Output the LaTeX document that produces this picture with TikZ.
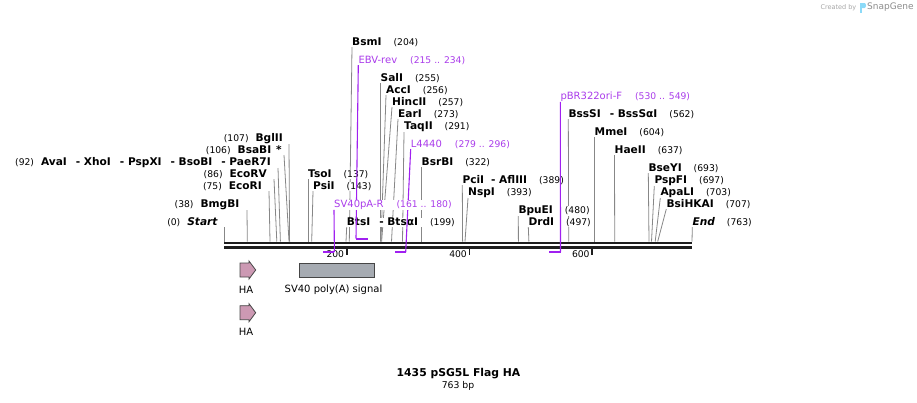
\documentclass[tikz,border=0pt]{standalone}
\usepackage{fontspec}
\setmainfont{DejaVu Sans}
\definecolor{primerc}{RGB}{160,32,240}
\definecolor{primertxt}{RGB}{170,60,235}
\definecolor{cutc}{RGB}{135,135,135}
\definecolor{hafill}{RGB}{204,153,179}
\definecolor{polyafill}{RGB}{166,171,178}
\definecolor{edgec}{RGB}{70,70,70}
\definecolor{bbone}{RGB}{30,30,30}
\pgfdeclarelayer{bg}
\pgfsetlayers{bg,main}
\newcommand{\sitename}[1]{{\fontsize{10.6}{12}\selectfont\bfseries #1}}
\newcommand{\sitenum}[1]{{\fontsize{9.2}{12}\selectfont(#1)}}
\begin{document}
\begin{tikzpicture}[x=1pt, y=-1pt,
    site/.style={inner sep=0pt, fill=white, font=\fontsize{9.2}{12}\selectfont},
    cut/.style={cutc, line width=0.8pt},
    primer/.style={primerc, line width=1.1pt},
    pbar/.style={primerc, line width=2pt},
    backbone/.style={bbone, line width=2.5pt},
    tick/.style={bbone, line width=1.6pt},
    feat/.style={draw=edgec, line width=0.8pt},
    flabel/.style={inner sep=0pt, font=\fontsize{10}{12}\selectfont}]
  \useasboundingbox (0,0) rectangle (917,402);
  % backbone and ruler
  \draw[backbone] (224,243) -- (692,243);
  \draw[backbone] (224,247.5) -- (692,247.5);
  \foreach \bp in {200,400,600}{
    \coordinate (t\bp) at ({224+\bp*0.6138},248.5);
    \draw[tick] (t\bp) -- ++(0,6.5);
    \node[site, fill=none, anchor=east] (lbl\bp) at ([xshift=-2.5pt,yshift=-6pt]t\bp) {\bp};
  }
  % sites labelled to the left of their line
  \foreach \id/\nm/\num/\ex/\ly/\tx/\cx in {
      start/\textit{Start}/0/218/222/224/224,
      bmgb/BmgBI/38/239.5/204/247/247.3,
      ecori/EcoRI/75/262/186/269/270,
      ecorv/EcoRV/86/267/174/274/276.8,
      paer/AvaI\hspace{9pt}- XhoI\hspace{9pt}- PspXI\hspace{9pt}- BsoBI\hspace{9pt}- PaeR7I/92/271/162/278/280.4,
      bsab/BsaBI\hspace{5pt}*/106/282/150/284/289,
      bgl/BglII/107/283/138/289/289.6}{
    \node[site, anchor=base east] (\id) at (\ex,\ly+3.6) {\sitenum{\num}\hspace{7pt}\sitename{\nm}};
    \path (\id.south east) ++(\tx-\ex,0) coordinate (\id-top);
    \coordinate (\id-cut) at (\cx,241.5);
    \begin{pgfonlayer}{bg}
      \draw[cut] (\id-top) -- (\id-cut);
    \end{pgfonlayer}
  }
  % sites labelled to the right of their line
  \foreach \id/\nm/\num/\lx/\ly/\cx in {
      tso/TsoI/137/308/174/308,
      psi/PsiI/143/313/186/311.7,
      bts/BtsI\hspace{9pt}- BtsαI/199/346.7/222/346,
      bsm/BsmI/204/352/42/349.3,
      sal/SalI/255/380.5/78/380.4,
      acc/AccI/256/386/90/381,
      hinc/HincII/257/392/102/381.6,
      ear/EarI/273/398/114/391.5,
      taq/TaqII/291/404/126/402.5,
      bsrb/BsrBI/322/421.5/162/421.5,
      pci/PciI\hspace{7pt}- AflIII/389/462.3/180/462.6,
      nsp/NspI/393/468/192/465,
      bpue/BpuEI/480/518.3/210/518.4,
      drd/DrdI/497/528.3/222/528.9,
      bsss/BssSI\hspace{9pt}- BssSαI/562/568.3/114/568.7,
      mme/MmeI/604/594.5/132/594.5,
      hae/HaeII/637/614.5/150/614.7,
      bsey/BseYI/693/648.3/168/649,
      pspf/PspFI/697/654.3/180/651.5,
      apal/ApaLI/703/660.3/192/655.2,
      bsih/BsiHKAI/707/666.3/204/657.7,
      end/\textit{End}/763/692.3/222/692}{
    \node[site, anchor=base west] (\id) at (\lx,\ly+3.6) {\sitename{\nm}\hspace{12pt}\sitenum{\num}};
    \coordinate (\id-cut) at (\cx,241.5);
    \begin{pgfonlayer}{bg}
      \draw[cut] (\id.south west) -- (\id-cut);
    \end{pgfonlayer}
  }
  % primers
  \foreach \id/\nm/\rng/\lx/\ly/\ax/\bx/\by in {
      ebv/EBV-rev/215 .. 234/358.3/60/356/367.5/238.5,
      lfour/L4440/279 .. 296/410.7/144/405.7/395/252,
      svr/SV40pA-R/161 .. 180/334/204/334.4/322.8/252,
      pbr/pBR322ori-F/530 .. 549/560.3/96/560.5/548.5/251.5}{
    \node[site, anchor=base west, text=primertxt] (\id) at (\lx,\ly+3.6) {{\fontsize{10}{12}\selectfont\nm}\hspace{13pt}\sitenum{\rng}};
    \coordinate (\id-a) at (\ax,\by);
    \coordinate (\id-b) at (\bx,\by);
    \draw[primer] (\id.south west) -- (\id-a);
    \draw[pbar] (\id-a) -- (\id-b);
  }
  % features
  \foreach \dy/\id in {0/haone,42.7/hatwo}{
    \draw[feat, fill=hafill] (240,263+\dy) -- (249,263+\dy) -- (249,261+\dy) -- (255.7,270+\dy)
      -- (249,279+\dy) -- (249,277+\dy) -- (240,277+\dy) -- cycle;
    \node[flabel] (\id) at (246,289.5+\dy) {HA};
  }
  \draw[feat, fill=polyafill] (299,263.3) rectangle (374.3,277.3);
  \node[flabel] (polya) at (333.5,289.5) {SV40 poly(A) signal};
  % title
  \node[inner sep=0pt, font=\fontsize{10.8}{12}\selectfont\bfseries] (title) at (458.5,374) {1435 pSG5L Flag HA};
  \node[inner sep=0pt, font=\fontsize{9.3}{11}\selectfont] (size) at (458,386) {763 bp};
  % credit
  \node[inner sep=0pt, anchor=east, text=black!35, font=\fontsize{6.5}{8}\selectfont] (credit) at (856.5,7.5) {Created by};
  \fill[cyan!45] (860,3) rectangle (862.2,12.5);
  \fill[cyan!45] (862.2,3) -- (864.5,3) .. controls (866.5,3) and (866.5,8) .. (864.5,8) -- (862.2,8) -- cycle;
  \node[inner sep=0pt, anchor=west, text=black!45, font=\fontsize{9}{10}\selectfont] (snapgene) at (867,7.5) {SnapGene};
\end{tikzpicture}
\end{document}
